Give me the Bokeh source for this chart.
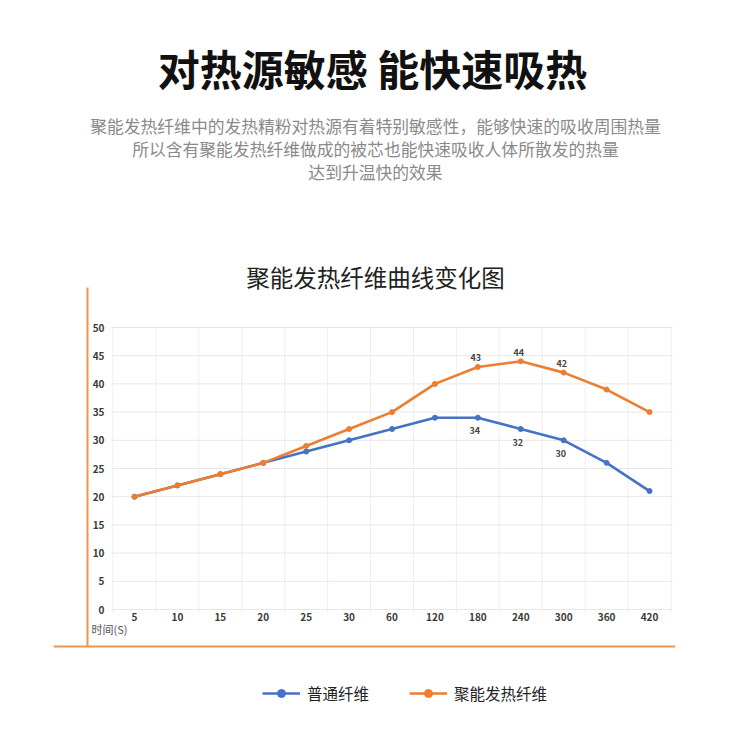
from bokeh.plotting import figure
from bokeh.models import (ColumnDataSource, FixedTicker, Label, Span, BoxAnnotation,
                          Legend, LegendItem, Range1d)
from bokeh.embed import file_html
from bokeh.resources import INLINE
from bokeh.core.properties import value

# ---- data ----
time_labels = ["5", "10", "15", "20", "25", "30", "60", "120", "180", "240", "300", "360", "420"]
normal_fiber = [20, 22, 24, 26, 28, 30, 32, 34, 34, 32, 30, 26, 21]
heating_fiber = [20, 22, 24, 26, 29, 32, 35, 40, 43, 44, 42, 39, 35]
labeled_idx = [8, 9, 10]
y_tick_values = [0, 5, 10, 15, 20, 25, 30, 35, 40, 45, 50]

main_title = "对热源敏感 能快速吸热"
sub_lines = ["聚能发热纤维中的发热精粉对热源有着特别敏感性，能够快速的吸收周围热量",
             "所以含有聚能发热纤维做成的被芯也能快速吸收人体所散发的热量",
             "达到升温快的效果"]
chart_title = "聚能发热纤维曲线变化图"
x_title = "时间(S)"
series_names = ["普通纤维", "聚能发热纤维"]

BLUE = "#4472C4"
ORANGE = "#ED7D31"
DECO = "#EE9550"
FONT = "Noto Sans CJK SC"

W, H = 750, 752
FL, FR, FT, FB = 53, 675, 0, H   # frame in page px


# page-pixel -> data helpers (category 0 at x=134, step 42.92 px; value 0 at y=609, 5.64 px/unit)
def dx(X):
    return (X - 134) / 42.92


def dy(Y):
    return (609 - Y) / 5.64


n = len(time_labels)
xs = list(range(n))
src = ColumnDataSource(dict(x=xs, normal=normal_fiber, heating=heating_fiber))

p = figure(width=W, height=H, output_backend="svg", toolbar_location=None,
           x_range=Range1d(dx(FL), dx(FR)), y_range=Range1d(dy(FB), dy(FT)),
           min_border_left=FL, min_border_right=W - FR,
           min_border_top=0, min_border_bottom=0)
p.outline_line_color = None
p.background_fill_color = "white"
p.border_fill_color = "white"
p.xgrid.visible = False
p.ygrid.visible = False

# grid (drawn only over the plotting area)
gx = [i - 0.5 for i in range(n + 1)]
p.segment(x0=gx, y0=[-0.6] * len(gx), x1=gx, y1=[max(y_tick_values)] * len(gx),
          line_color="#eeeeee", line_width=1)
p.segment(x0=[-0.536] * len(y_tick_values), y0=y_tick_values,
          x1=[n - 1 + 0.536] * len(y_tick_values), y1=y_tick_values,
          line_color="#e6e6e6", line_width=1)

# axes
p.yaxis.ticker = FixedTicker(ticks=y_tick_values)
p.yaxis.axis_line_color = None
p.yaxis.major_tick_line_color = None
p.yaxis.minor_tick_line_color = None
p.yaxis.major_label_standoff = -57
p.yaxis.major_label_text_font = FONT
p.yaxis.major_label_text_font_size = "10px"
p.yaxis.major_label_text_font_style = "bold"
p.yaxis.major_label_text_color = "#3a3a3a"

p.xaxis.ticker = FixedTicker(ticks=xs)
p.xaxis.major_label_overrides = {i: t for i, t in zip(xs, time_labels)}
p.xaxis.axis_line_color = None
p.xaxis.major_tick_line_color = None
p.xaxis.minor_tick_line_color = None
p.xaxis.major_label_standoff = 606 - FB
p.xaxis.major_label_text_font = FONT
p.xaxis.major_label_text_font_size = "10px"
p.xaxis.major_label_text_font_style = "bold"
p.xaxis.major_label_text_color = "#3a3a3a"

# decorative orange frame lines
p.add_layout(Span(location=dy(646), dimension="width", line_color=DECO, line_width=2))
p.add_layout(BoxAnnotation(left=dx(86), right=dx(88), top=dy(287), bottom=dy(646),
                           fill_color=DECO, fill_alpha=1, line_color=None))
p.add_layout(BoxAnnotation(left=dx(682), right=dx(684), top=dy(289), bottom=dy(293),
                           fill_color="#F5A623", fill_alpha=1, line_color=None))

# series
l1 = p.line("x", "normal", source=src, line_color=BLUE, line_width=2.6)
s1 = p.scatter("x", "normal", source=src, fill_color=BLUE, line_color=BLUE, size=5)
l2 = p.line("x", "heating", source=src, line_color=ORANGE, line_width=2.6)
s2 = p.scatter("x", "heating", source=src, fill_color=ORANGE, line_color=ORANGE, size=5)

# data labels
lab_src = ColumnDataSource(dict(
    x=labeled_idx,
    yh=[heating_fiber[i] for i in labeled_idx],
    th=[str(heating_fiber[i]) for i in labeled_idx],
    yn=[normal_fiber[i] for i in labeled_idx],
    tn=[str(normal_fiber[i]) for i in labeled_idx]))
p.text("x", "yh", text="th", source=lab_src, text_align="center", text_baseline="middle",
       y_offset=-9, x_offset=-2, text_font=value(FONT), text_font_size="9px",
       text_font_style="bold", text_color="#444444")
p.text("x", "yn", text="tn", source=lab_src, text_align="center", text_baseline="middle",
       y_offset=13, x_offset=-3, text_font=value(FONT), text_font_size="9px",
       text_font_style="bold", text_color="#444444")


def add_label(text, X, Y, size, color, align="center", style="normal"):
    p.add_layout(Label(x=dx(X), y=dy(Y), text=text,
                       text_align=align, text_baseline="middle", text_font=FONT,
                       text_font_size=size, text_color=color, text_font_style=style))


add_label(main_title, 372, 67, "42px", "#111111", style="bold")
for txt, Y in zip(sub_lines, [125, 148, 171]):
    add_label(txt, 375, Y, "16.8px", "#8a8a8a")
add_label(chart_title, 375, 276, "23.5px", "#222222")
add_label(x_title, 91, 628, "11px", "#555555", align="left")

# legend (below the box, inside the frame)
legend = Legend(items=[LegendItem(label=series_names[0], renderers=[l1, s1]),
                       LegendItem(label=series_names[1], renderers=[l2, s2])],
                orientation="horizontal", location=(262 - FL, FB - 704),
                glyph_width=38, glyph_height=20, label_standoff=7, spacing=40,
                padding=0, margin=0, border_line_color=None, background_fill_alpha=0,
                label_text_font=FONT, label_text_font_size="15.5px",
                label_text_color="#222222", label_height=20)
p.add_layout(legend, "center")

open("out.html", "w").write(file_html(p, INLINE))
